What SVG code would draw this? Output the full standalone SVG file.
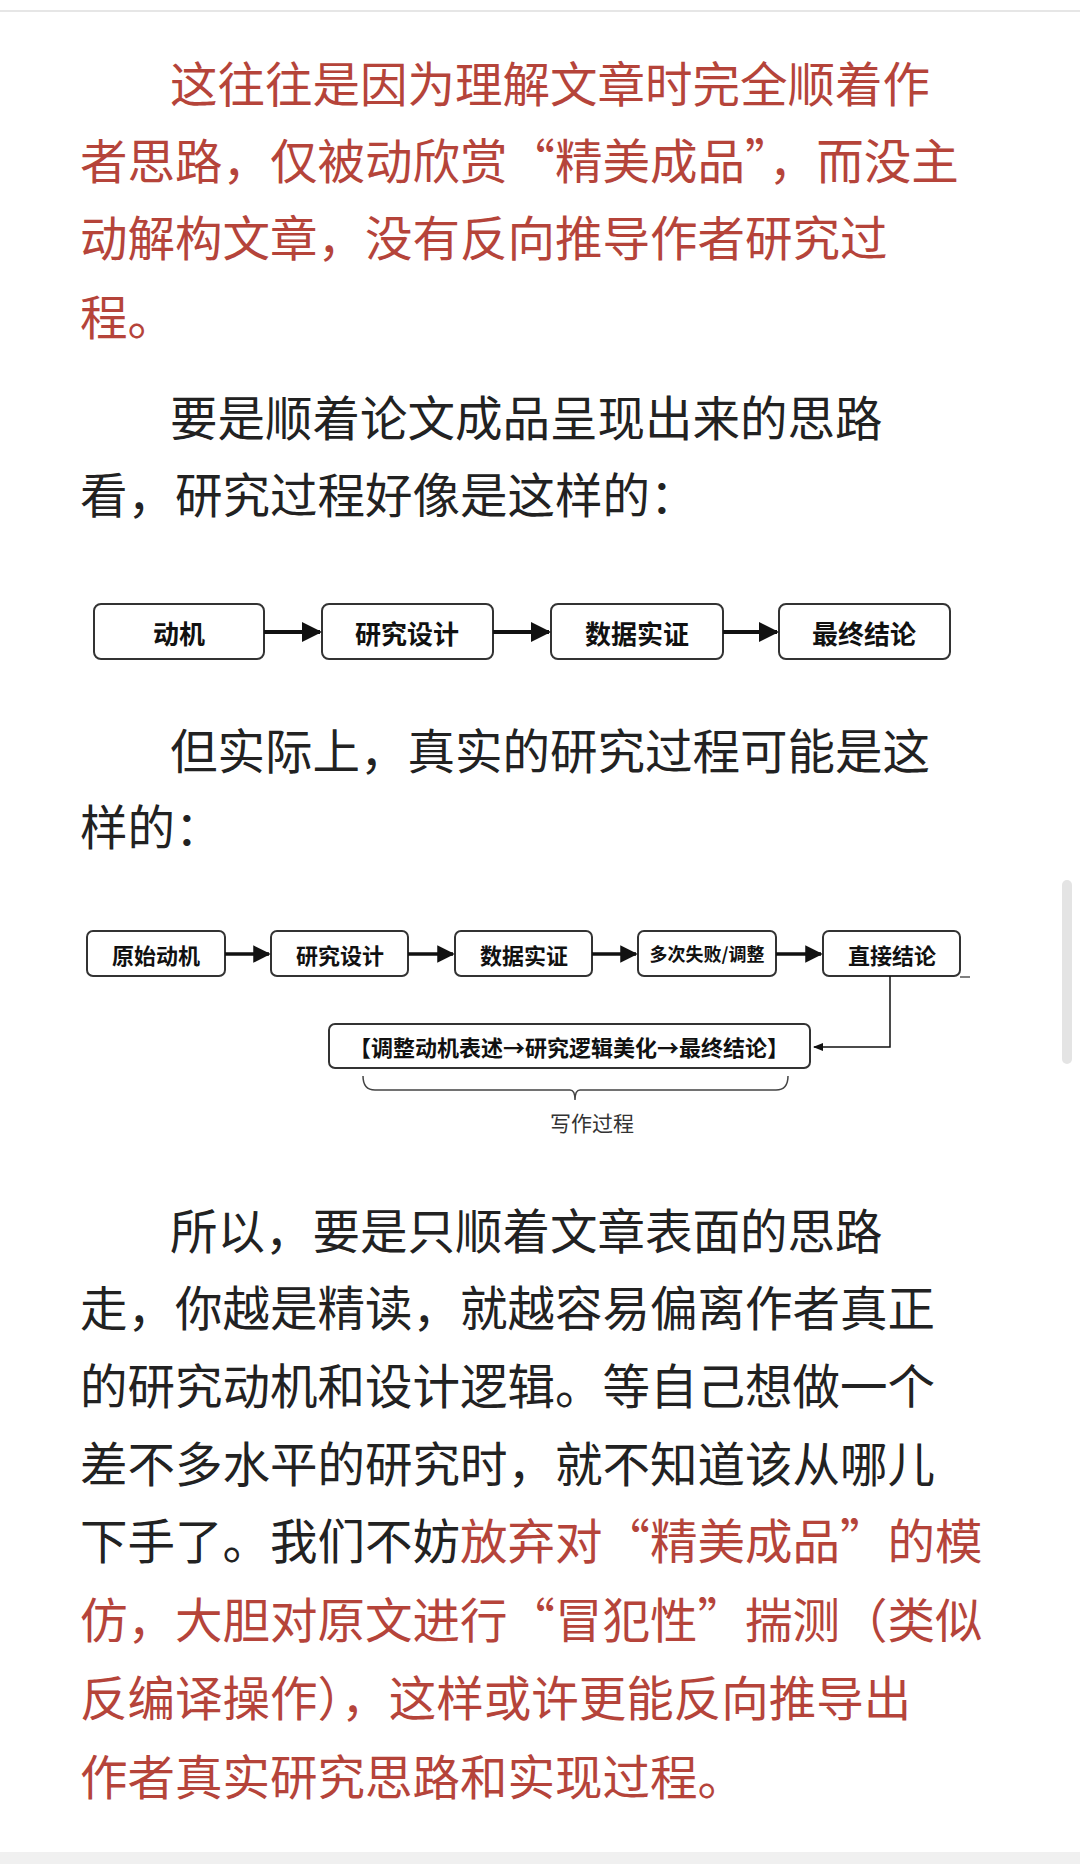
<svg xmlns="http://www.w3.org/2000/svg" width="1080" height="1864" viewBox="0 0 1080 1864">
<style>
.t{font-family:"Noto Sans CJK SC","Noto Sans",sans-serif;font-size:47.5px;fill:#222}
.r{fill:#b5443a}
.box{fill:#fff;stroke:#333;stroke-width:2}
.bl{font-family:"Noto Sans CJK SC",sans-serif;font-weight:bold;fill:#111;text-anchor:middle;dominant-baseline:central}
.c{stroke:#111;fill:none}
</style>
<defs>
<marker id="ah" viewBox="0 0 10 10" refX="9" refY="5" markerWidth="5" markerHeight="5" orient="auto"><path d="M0,0L10,5L0,10Z" fill="#111"/></marker>
<marker id="as" viewBox="0 0 10 10" refX="9" refY="5" markerWidth="7" markerHeight="7" orient="auto"><path d="M0,1L10,5L0,9Z" fill="#111"/></marker>
</defs>
<rect width="1080" height="1864" fill="#fff"/>
<line x1="0" y1="11" x2="1080" y2="11" stroke="#e6e6e6" stroke-width="2"/>
<rect x="0" y="1852" width="1080" height="12" fill="#f0f0f0"/>
<rect x="1062" y="880" width="10" height="184" rx="5" fill="#e4e4e4"/>

<g id="para1">
<text class="t r" x="170" y="102">这往往是因为理解文章时完全顺着作</text>
<text class="t r" x="80" y="179">者思路，仅被动欣赏“精美成品”，而没主</text>
<text class="t r" x="80" y="256">动解构文章，没有反向推导作者研究过</text>
<text class="t r" x="80" y="335">程。</text>
</g>
<g id="para2">
<text class="t" x="170" y="436">要是顺着论文成品呈现出来的思路</text>
<text class="t" x="80" y="513">看，研究过程好像是这样的：</text>
</g>

<g id="d1n1"><rect class="box" x="94" y="604" width="170" height="55" rx="7"/><text class="bl" x="179" y="632" font-size="26">动机</text></g>
<g id="d1n2"><rect class="box" x="322" y="604" width="171" height="55" rx="7"/><text class="bl" x="407" y="632" font-size="26">研究设计</text></g>
<g id="d1n3"><rect class="box" x="551" y="604" width="172" height="55" rx="7"/><text class="bl" x="637" y="632" font-size="26">数据实证</text></g>
<g id="d1n4"><rect class="box" x="779" y="604" width="171" height="55" rx="7"/><text class="bl" x="864" y="632" font-size="26">最终结论</text></g>

<g id="para3">
<text class="t" x="170" y="769">但实际上，真实的研究过程可能是这</text>
<text class="t" x="80" y="845">样的：</text>
</g>

<g id="d2n1"><rect class="box" x="87" y="931" width="138" height="45" rx="6"/><text class="bl" x="156" y="954" font-size="22">原始动机</text></g>
<g id="d2n2"><rect class="box" x="271" y="931" width="137" height="45" rx="6"/><text class="bl" x="340" y="954" font-size="22">研究设计</text></g>
<g id="d2n3"><rect class="box" x="455" y="931" width="137" height="45" rx="6"/><text class="bl" x="524" y="954" font-size="22">数据实证</text></g>
<g id="d2n4"><rect class="box" x="638" y="931" width="138" height="45" rx="6"/><text class="bl" x="707" y="953" font-size="18" font-weight="normal">多次失败/调整</text></g>
<g id="d2n5"><rect class="box" x="823" y="931" width="137" height="45" rx="6"/><text class="bl" x="892" y="954" font-size="22">直接结论</text></g>
<g id="d2n6"><rect class="box" x="329" y="1024" width="481" height="44" rx="6"/><text class="bl" x="569" y="1046" font-size="22">【调整动机表述→研究逻辑美化→最终结论】</text></g>
<g id="d2label"><text x="592" y="1131" font-family="Noto Sans CJK SC,sans-serif" font-size="21" fill="#333" text-anchor="middle">写作过程</text></g>

<g id="connectors">
<line class="c" x1="264" y1="632" x2="320" y2="632" stroke-width="4" marker-end="url(#ah)"/>
<line class="c" x1="493" y1="632" x2="549" y2="632" stroke-width="4" marker-end="url(#ah)"/>
<line class="c" x1="723" y1="632" x2="777" y2="632" stroke-width="4" marker-end="url(#ah)"/>
<line class="c" x1="225" y1="954" x2="269" y2="954" stroke-width="3.5" marker-end="url(#ah)"/>
<line class="c" x1="408" y1="954" x2="453" y2="954" stroke-width="3.5" marker-end="url(#ah)"/>
<line class="c" x1="592" y1="954" x2="636" y2="954" stroke-width="3.5" marker-end="url(#ah)"/>
<line class="c" x1="776" y1="954" x2="821" y2="954" stroke-width="3.5" marker-end="url(#ah)"/>
<line x1="960" y1="977" x2="970" y2="977" stroke="#555" stroke-width="1.5"/>
<path class="c" d="M890,976V1047H814" stroke-width="1.5" stroke="#444" marker-end="url(#as)"/>
<path d="M363,1076q0,14 12,14H570q5,0 5,10q0,-10 5,-10H776q12,0 12,-14" fill="none" stroke="#444" stroke-width="1.5"/>
</g>

<g id="para4">
<text class="t" x="170" y="1249">所以，要是只顺着文章表面的思路</text>
<text class="t" x="80" y="1326">走，你越是精读，就越容易偏离作者真正</text>
<text class="t" x="80" y="1404">的研究动机和设计逻辑。等自己想做一个</text>
<text class="t" x="80" y="1482">差不多水平的研究时，就不知道该从哪儿</text>
<text class="t" x="80" y="1559">下手了。我们不妨<tspan class="r">放弃对“精美成品”的模</tspan></text>
<text class="t r" x="80" y="1638">仿，大胆对原文进行“冒犯性”揣测（类似</text>
<text class="t r" x="80" y="1716">反编译操作），这样或许更能反向推导出</text>
<text class="t r" x="80" y="1795">作者真实研究思路和实现过程。</text>
</g>
</svg>
